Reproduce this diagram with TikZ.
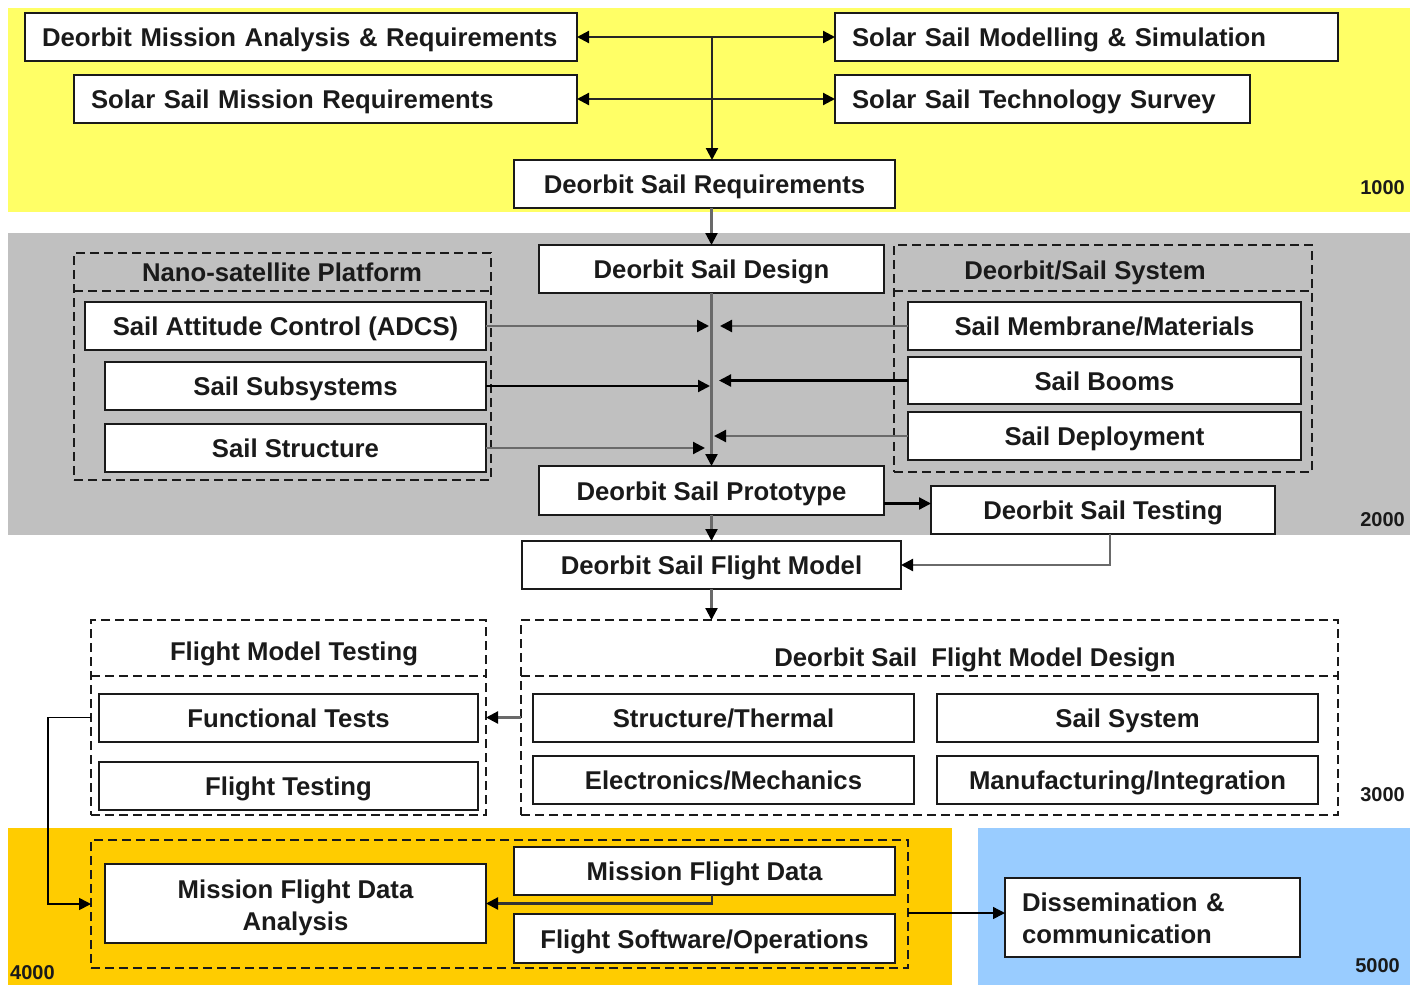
\documentclass[tikz,border=0pt]{standalone}
\usepackage{fontspec}
\setmainfont{Liberation Sans}
\usetikzlibrary{arrows.meta}
\definecolor{bandyellow}{HTML}{FFFF66}
\definecolor{bandgray}{HTML}{C0C0C0}
\definecolor{bandorange}{HTML}{FFCC00}
\definecolor{bandblue}{HTML}{99CCFF}
\definecolor{ink}{HTML}{1A1A1A}
\definecolor{wire}{HTML}{6A6A6A}

\begin{document}
\begin{tikzpicture}[x=1pt,y=-1pt,
  txt/.style={text=ink, font=\bfseries\fontsize{25.7}{32}\selectfont},
  oneline/.style={text height=19pt, text depth=0pt},
  box/.style={txt, draw=ink, fill=white, line width=1.7pt, inner sep=0pt, outer sep=0pt, anchor=north west, align=center},
  sz/.style 2 args={oneline, minimum width=#1pt, minimum height=#2pt},
  lbox/.style 2 args={box, align=left, inner xsep=17pt, text width=#1pt-34pt, minimum height=#2pt},
  group/.style={draw=ink, line width=1.5pt, dash pattern=on 9pt off 5pt, inner sep=0pt, outer sep=0pt, anchor=north west},
  divider/.style={draw=ink, line width=1.5pt, dash pattern=on 9pt off 5pt},
  gtitle/.style={txt, oneline, inner sep=0pt},
  tag/.style={text=ink, font=\bfseries\fontsize{20}{22}\selectfont, inner sep=0pt},
  conn/.style={draw=black, line width=2.2pt, -{Triangle[length=12pt,width=12pt,color=black]}},
  gconn/.style={conn, draw=wire},
  both/.style={draw=black!85, line width=2.2pt, {Triangle[length=12pt,width=12pt,color=black]}-{Triangle[length=12pt,width=12pt,color=black]}}
]
\useasboundingbox (0,0) rectangle (1410,985);

% colour bands of the five work-package levels
\fill[bandyellow] (8,8) rectangle (1410,212);
\fill[bandgray] (8,233) rectangle (1410,535);
\fill[bandorange] (8,828) rectangle (952,985);
\fill[bandblue] (978,828) rectangle (1410,985);

\node[tag, anchor=east] (t1000) at (1405,188) {1000};
\node[tag, anchor=east] (t2000) at (1405,520) {2000};
\node[tag, anchor=east] (t3000) at (1405,795) {3000};
\node[tag, anchor=west] (t4000) at (10,973) {4000};
\node[tag, anchor=east] (t5000) at (1400,966) {5000};

% dashed groupings
\node[group, minimum width=417pt, minimum height=227pt] (NP) at (74,253) {};
\draw[divider] ([yshift=-38pt]NP.north west) -- ([yshift=-38pt]NP.north east);
\node[gtitle] (NPt) at (282,272) {Nano-satellite Platform};

\node[group, minimum width=418pt, minimum height=227pt] (DS) at (894,245) {};
\draw[divider] ([yshift=-46pt]DS.north west) -- ([yshift=-46pt]DS.north east);
\node[gtitle] (DSt) at (1085,270) {Deorbit/Sail System};

\node[group, minimum width=395pt, minimum height=195pt] (FMT) at (91,620) {};
\draw[divider] ([yshift=-56pt]FMT.north west) -- ([yshift=-56pt]FMT.north east);
\node[gtitle] (FMTt) at (294,651) {Flight Model Testing};

\node[group, minimum width=817pt, minimum height=195pt] (FMD) at (521,620) {};
\draw[divider] ([yshift=-56pt]FMD.north west) -- ([yshift=-56pt]FMD.north east);
\node[gtitle] (FMDt) at (975,657) {Deorbit Sail~ Flight Model Design};

\node[group, minimum width=817pt, minimum height=128pt] (MG) at (91,840) {};

% level 1000
\node[lbox={552}{48}, oneline] (A) at (25,13) {Deorbit Mission Analysis \& Requirements};
\node[lbox={503}{48}, oneline] (B) at (74,75) {Solar Sail Mission Requirements};
\node[lbox={503}{48}, oneline] (C) at (835,13) {Solar Sail Modelling \& Simulation};
\node[lbox={415}{48}, oneline] (D) at (835,75) {Solar Sail Technology Survey};
\node[box, sz={381}{48}] (E) at (514,160) {Deorbit Sail Requirements};

% level 2000
\node[box, sz={345}{48}] (Design) at (539,245) {Deorbit Sail Design};
\node[box, sz={401}{48}] (ADCS) at (85,302) {Sail Attitude Control (ADCS)};
\node[box, sz={381}{48}] (Subsys) at (105,362) {Sail Subsystems};
\node[box, sz={381}{48}] (Struct) at (105,424) {Sail Structure};
\node[box, sz={393}{48}] (Membrane) at (908,302) {Sail Membrane/Materials};
\node[box, sz={393}{47}] (Booms) at (908,357) {Sail Booms};
\node[box, sz={393}{48}] (Deploy) at (908,412) {Sail Deployment};
\node[box, sz={345}{49}] (Proto) at (539,466) {Deorbit Sail Prototype};
\node[box, sz={344}{48}] (Testing) at (931,486) {Deorbit Sail Testing};
\node[box, sz={379}{48}] (FM) at (522,541) {Deorbit Sail Flight Model};

% level 3000
\node[box, sz={379}{48}] (Func) at (99,694) {Functional Tests};
\node[box, sz={379}{48}] (FlightT) at (99,762) {Flight Testing};
\node[box, sz={381}{48}] (StructTh) at (533,694) {Structure/Thermal};
\node[box, sz={381}{48}] (SailSys) at (937,694) {Sail System};
\node[box, sz={381}{48}] (Elec) at (533,756) {Electronics/Mechanics};
\node[box, sz={381}{48}] (Manuf) at (937,756) {Manufacturing/Integration};

% levels 4000 and 5000
\node[box, minimum width=381pt, minimum height=79pt] (MFDA) at (105,864) {\rule{0pt}{28pt}Mission Flight Data\\Analysis};
\node[box, sz={381}{48}] (MFD) at (514,847) {Mission Flight Data};
\node[box, sz={381}{49}] (FSO) at (514,914) {Flight Software/Operations};
\node[lbox={295}{79}] (Diss) at (1005,878) {\rule{0pt}{20pt}Dissemination \&\\communication};

% connectors, level 1000
\coordinate (hub) at (712,37);
\draw[both] (A.east) -- (C.west);
\draw[both] (B.east) -- (D.west);
\draw[conn, draw=black!85] (hub) -- (hub |- E.north);
\draw[gconn] (E.south -| Design.north) -- (Design.north);

% connectors, level 2000
\coordinate (spine) at (712,300);
\draw[gconn] (Design.south) -- (Proto.north);
\draw[gconn] (ADCS.east) -- ([xshift=-3pt]spine |- ADCS.east);
\draw[conn] (Subsys.east) -- ([xshift=-2pt]spine |- Subsys.east);
\draw[gconn] (Struct.east) -- ([xshift=-7pt]spine |- Struct.east);
\draw[gconn] (Membrane.west) -- ([xshift=8pt]spine |- Membrane.west);
\draw[conn] (Booms.west) -- ([xshift=7pt]spine |- Booms.west);
\draw[gconn] (Deploy.west) -- ([xshift=2pt]spine |- Deploy.west);
\coordinate (pt) at ([yshift=-13pt]Proto.east);
\draw[conn] (pt) -- (pt -| Testing.west);
\draw[gconn] (Proto.south) -- (FM.north);
\draw[gconn] ([xshift=7pt]Testing.south) |- (FM.east);

% connectors, levels 3000 to 5000
\draw[gconn] (FM.south) -- (FM.south |- FMD.north);
\draw[gconn] (FMD.west) -- (FMT.east);
\draw[conn, line width=1.7pt] (FMT.west) -- ++(-43,0) |- (MG.west);
\draw[conn, draw=black!80] ([xshift=7.5pt]MFD.south) |- (MFDA.east);
\coordinate (mg) at ([yshift=-9pt]MG.east);
\draw[conn, line width=1.4pt] (mg) -- (mg -| Diss.west);
\end{tikzpicture}
\end{document}
